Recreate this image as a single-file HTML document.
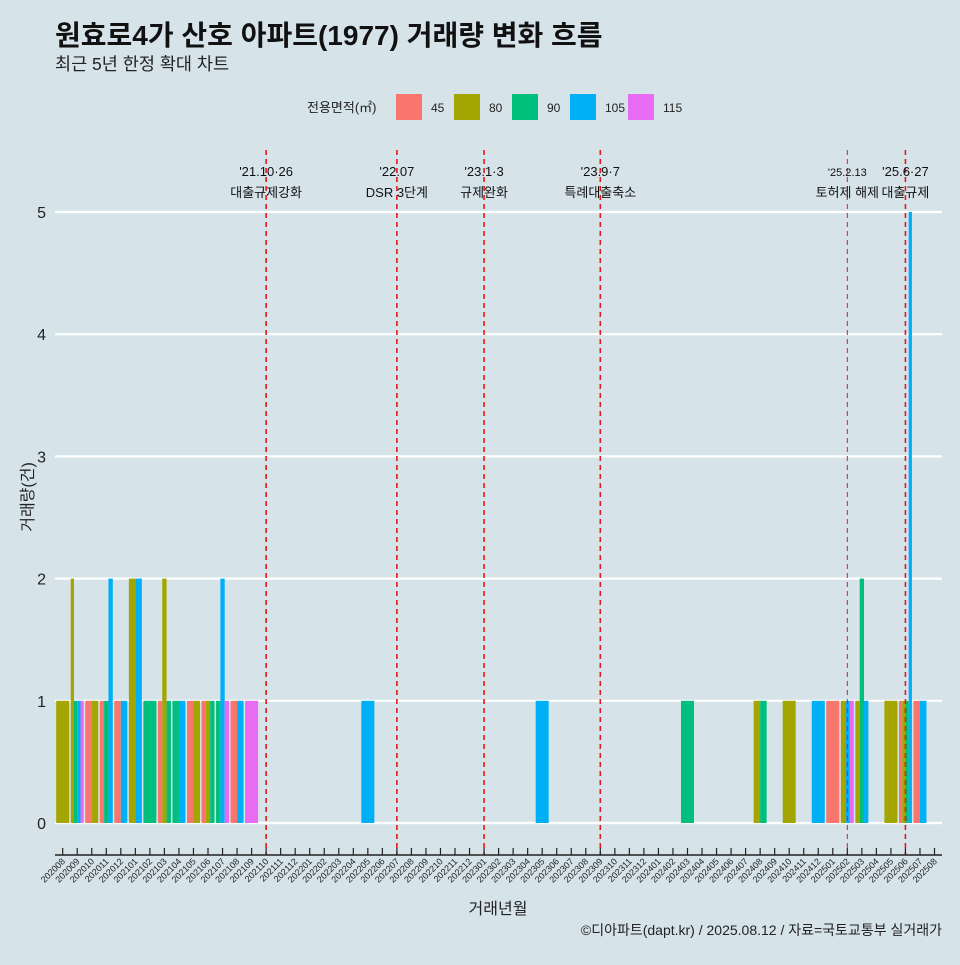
<!DOCTYPE html>
<html><head><meta charset="utf-8"><style>
body{margin:0;background:#d6e4ea;font-family:"Liberation Sans","Noto Sans CJK KR",sans-serif}
svg text{font-family:"Liberation Sans","Noto Sans CJK KR",sans-serif}
</style></head><body>
<svg id="c" width="960" height="960" xmlns="http://www.w3.org/2000/svg">
<rect width="960" height="960" fill="#d6e4ea"/>
<text x="55" y="45" font-size="28" font-weight="bold" fill="#111">원효로4가 산호 아파트(1977) 거래량 변화 흐름</text>
<text x="55" y="70" font-size="17.5" fill="#222">최근 5년 한정 확대 차트</text>
<g id="grid"></g><g id="bars"></g><g id="events"></g><g id="axes"></g><g id="legend"></g>
<text x="498" y="914" font-size="16" text-anchor="middle" fill="#222">거래년월</text>
<text transform="translate(33,497) rotate(-90)" font-size="16" text-anchor="middle" fill="#222">거래량(건)</text>
<text x="942" y="935" font-size="14" text-anchor="end" fill="#222">©디아파트(dapt.kr) / 2025.08.12 / 자료=국토교통부 실거래가</text>
</svg>
<script>
const months=[];for(let y=2020;y<=2025;y++)for(let m=1;m<=12;m++){const k=y*100+m;if(k>=202008&&k<=202508)months.push(String(k));}
const areas=["45","80","90","105","115"];
const colors=["#f8766d","#a3a500","#00bf7d","#00b0f6","#e76bf3"];
const dealMonths=["202008","202009","202010","202011","202012","202101","202102","202103","202104","202105","202106","202107","202108","202109","202205","202305","202403","202408","202410","202412","202501","202502","202503","202505","202506","202507"];
const dealAreas=[["80"],["80","90","105","115"],["45","80"],["45","90","105"],["45","105"],["80","105"],["90"],["45","80","90"],["90","105"],["45","80"],["45","80","90"],["90","105","115"],["45","105"],["115"],["105"],["105"],["90"],["80","90"],["80"],["105"],["45"],["80","105","115"],["80","90","105"],["80"],["45","80","90","105"],["45","105"]];
const dealCounts=[[1],[2,1,1,1],[1,1],[1,1,2],[1,1],[2,2],[1],[1,2,1],[1,1],[1,1],[1,1,1],[1,2,1],[1,1],[1],[1],[1],[1],[1,1],[1],[1],[1],[1,1,1],[1,2,1],[1],[1,1,1,5],[1,1]];
const yTicks=[0,1,2,3,4,5];
const eventMonths=["202110","202207","202301","202309","202502","202506"];
const eventDates=["'21.10·26","'22.07","'23.1·3","'23.9·7","'25.2.13","'25.6·27"];
const eventNames=["대출규제강화","DSR 3단계","규제완화","특례대출축소","토허제 해제","대출규제"];
const NS="http://www.w3.org/2000/svg";
const X0=62.7,DX=14.53,Y0=823,DY=122.2,L=55,R=942;
const x=m=>X0+DX*months.indexOf(m);const y=v=>Y0-DY*v;
function mk(t,a,p){const e=document.createElementNS(NS,t);for(const k in a)e.setAttribute(k,a[k]);p.appendChild(e);return e;}
const grid=document.getElementById('grid');
yTicks.forEach(t=>{const l=mk('line',{x1:L,x2:R,y1:y(t),y2:y(t),stroke:'#fff','stroke-width':2.2},grid);


const tx=mk('text',{x:46,y:y(t)+6,'font-size':16,'text-anchor':'end',fill:'#222'},grid);tx.textContent=t;

});
const bars=document.getElementById('bars');const W=13;
dealMonths.forEach((m,i)=>{const n=dealAreas[i].length,w=W/n,cx=x(m);
dealAreas[i].forEach((a,j)=>{const v=dealCounts[i][j];
const r=mk('rect',{x:cx-W/2+j*w,y:y(v),width:w,height:DY*v,fill:colors[areas.indexOf(a)]},bars);

});});
const ev=document.getElementById('events');
eventMonths.forEach((m,i)=>{const xx=x(m);const thin=m==="202502";
const l=mk('line',{x1:xx,x2:xx,y1:150,y2:855,stroke:'#e31a1c','stroke-width':thin?1:1.6,'stroke-dasharray':'5,4'},ev);


const t1=mk('text',{x:xx,y:176,'font-size':thin?11:13,'text-anchor':'middle',fill:'#111'},ev);t1.textContent=eventDates[i];


const t2=mk('text',{x:xx,y:197,'font-size':13,'text-anchor':'middle',fill:'#111'},ev);t2.textContent=eventNames[i];

});
const ax=document.getElementById('axes');
const al=mk('line',{x1:L,x2:R,y1:855,y2:855,stroke:'#222','stroke-width':1.5},ax);


months.forEach(m=>{const xx=x(m);mk('line',{x1:xx,x2:xx,y1:848,y2:855,stroke:'#222','stroke-width':1.2},ax);
const t=mk('text',{transform:`translate(${xx+3},862) rotate(-45)`,'font-size':9,'text-anchor':'end',fill:'#222'},ax);t.textContent=m;

});
const lg=document.getElementById('legend');
const lt=mk('text',{x:307,y:112,'font-size':13,fill:'#222'},lg);lt.textContent='전용면적(㎡)';


const lx=[396,454,512,570,628];
areas.forEach((a,i)=>{const r=mk('rect',{x:lx[i],y:94,width:26,height:26,fill:colors[i]},lg);


const t=mk('text',{x:lx[i]+35,y:112,'font-size':12,fill:'#222'},lg);t.textContent=a;

});
</script>
</body></html>
